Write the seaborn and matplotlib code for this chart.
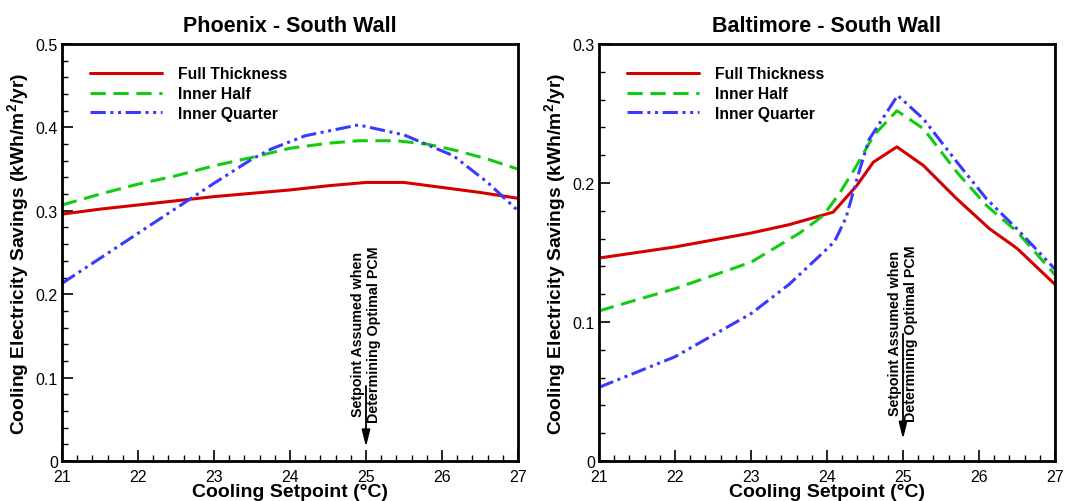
import matplotlib
matplotlib.use("Agg")
import matplotlib.pyplot as plt
import seaborn as sns
import pandas as pd
from matplotlib.ticker import MultipleLocator

# ---- data ----
phx_x_full = [21, 21.5, 22, 22.5, 23, 23.5, 24, 24.5, 25, 25.5, 26, 26.5, 27]
phx_full = [0.296, 0.302, 0.307, 0.312, 0.317, 0.321, 0.325, 0.330, 0.334, 0.334, 0.328, 0.322, 0.315]
phx_x_half = [21, 21.5, 22, 22.5, 23, 23.5, 24, 24.5, 24.9, 25.4, 25.8, 26.2, 26.6, 27]
phx_half = [0.307, 0.320, 0.332, 0.342, 0.354, 0.364, 0.375, 0.381, 0.384, 0.384, 0.380, 0.372, 0.362, 0.350]
phx_x_quarter = [21, 21.5, 22, 22.5, 23, 23.5, 23.75, 24.2, 24.9, 25.5, 26.15, 26.6, 27]
phx_quarter = [0.213, 0.243, 0.273, 0.303, 0.333, 0.362, 0.374, 0.390, 0.403, 0.391, 0.366, 0.334, 0.300]

bal_x_full = [21, 22, 23, 23.5, 24.08, 24.39, 24.61, 24.92, 25.27, 25.71, 26.14, 26.5, 27]
bal_full = [0.146, 0.154, 0.164, 0.170, 0.179, 0.198, 0.215, 0.226, 0.2125, 0.1885, 0.167, 0.153, 0.127]
bal_x_half = [21, 22, 23, 23.64, 23.95, 24.17, 24.39, 24.61, 24.92, 25.27, 25.71, 26.1, 26.5, 27]
bal_half = [0.108, 0.124, 0.143, 0.164, 0.1765, 0.193, 0.2125, 0.234, 0.252, 0.239, 0.2077, 0.1837, 0.165, 0.134]
bal_x_quarter = [21, 22, 23, 23.5, 23.95, 24.1, 24.25, 24.4, 24.55, 24.93, 25.27, 25.71, 26.1, 26.5, 27]
bal_quarter = [0.053, 0.075, 0.106, 0.127, 0.150, 0.158, 0.175, 0.204, 0.231, 0.263, 0.246, 0.215, 0.1885, 0.167, 0.138]

series_names = ["Full Thickness", "Inner Half", "Inner Quarter"]
titles = ["Phoenix - South Wall", "Baltimore - South Wall"]
xlabel = "Cooling Setpoint (°C)"
ylabel = "Cooling Electricity Savings (kWh/m$^2$/yr)"
note = "Setpoint Assumed when\nDetermining Optimal PCM"

colors = {"Full Thickness": "#d40000", "Inner Half": "#11cc11", "Inner Quarter": "#3a3aff"}
dashes = {"Full Thickness": "", "Inner Half": (5, 2.5), "Inner Quarter": (5, 1.5, 1, 1.5, 1, 1.5)}

def make_df(xs, ys):
    rows = []
    for name, x, y in zip(series_names, xs, ys):
        for a, b in zip(x, y):
            rows.append({"x": a, "y": b, "series": name})
    return pd.DataFrame(rows)

df_phx = make_df([phx_x_full, phx_x_half, phx_x_quarter], [phx_full, phx_half, phx_quarter])
df_bal = make_df([bal_x_full, bal_x_half, bal_x_quarter], [bal_full, bal_half, bal_quarter])

sns.set_style("ticks")
plt.rcParams["font.family"] = ["Liberation Sans", "DejaVu Sans"]
plt.rcParams["mathtext.fontset"] = "custom"
plt.rcParams["mathtext.rm"] = "Liberation Sans:bold"
plt.rcParams["mathtext.it"] = "Liberation Sans:bold"
plt.rcParams["mathtext.bf"] = "Liberation Sans:bold"
for k in ["text.color", "axes.labelcolor", "xtick.color", "ytick.color", "axes.edgecolor"]:
    plt.rcParams[k] = "black"

fig = plt.figure(figsize=(10.65, 5.02), dpi=100)
W, H = 1065, 502
ax1 = fig.add_axes([62 / W, 1 - 462 / H, (518 - 62) / W, (462 - 45) / H])
ax2 = fig.add_axes([599 / W, 1 - 462 / H, (1055 - 599) / W, (462 - 45) / H])

configs = [
    (ax1, df_phx, 0.5, 0.1, 0.02, 0.090, 0.047, 0.017),
    (ax2, df_bal, 0.3, 0.1, 0.02, 0.0914, 0.029, 0.0158),
]

for (ax, df, ymax, ymaj, ymin, arrow_top, text_bottom, tip), title in zip(configs, titles):
    sns.lineplot(data=df, x="x", y="y", hue="series", style="series",
                 palette=colors, dashes=dashes, linewidth=2.2, ax=ax,
                 sort=False, estimator=None)
    ax.set_xlim(21, 27)
    ax.set_ylim(0, ymax)
    ax.xaxis.set_major_locator(MultipleLocator(1))
    ax.xaxis.set_minor_locator(MultipleLocator(0.2))
    ax.yaxis.set_major_locator(MultipleLocator(ymaj))
    ax.yaxis.set_minor_locator(MultipleLocator(ymin))
    ax.tick_params(which="major", direction="in", length=8, width=1.2,
                   labelsize=11.5, top=False, right=False)
    ax.tick_params(axis="x", which="major", pad=6)
    ax.tick_params(axis="y", which="major", pad=3)
    ax.tick_params(which="minor", direction="in", length=4.5, width=1.0,
                   top=False, right=False)
    ax.set_yticks(ax.get_yticks())
    ax.set_yticklabels(["0" if abs(v) < 1e-9 else f"{v:g}" for v in ax.get_yticks()])
    ax.set_ylim(0, ymax)
    for s in ax.spines.values():
        s.set_linewidth(2)
        s.set_color("black")
    ax.set_title(title, fontsize=15.5, fontweight="bold", pad=9)
    ax.set_xlabel(xlabel, fontsize=14, fontweight="bold", labelpad=-1)
    ax.set_ylabel(ylabel, fontsize=13.9, fontweight="bold", labelpad=3)

    leg = ax.legend(loc="upper left", bbox_to_anchor=(0.03, 0.98), frameon=False,
                    handlelength=4.6, handletextpad=1.0, labelspacing=0.3,
                    prop={"weight": "bold", "size": 11.3})
    for line in leg.get_lines():
        line.set_linewidth(2.2)

    ax.annotate("", xy=(25, tip), xytext=(25, arrow_top),
                arrowprops=dict(arrowstyle="-|>,head_length=1.0,head_width=0.25",
                                color="black", lw=1.3, shrinkA=0, shrinkB=0))
    ax.text(25, text_bottom, note, rotation=90, ha="center", va="bottom",
            fontsize=10.3, fontweight="bold", linespacing=1.25)

fig.savefig("out.png", dpi=100)
